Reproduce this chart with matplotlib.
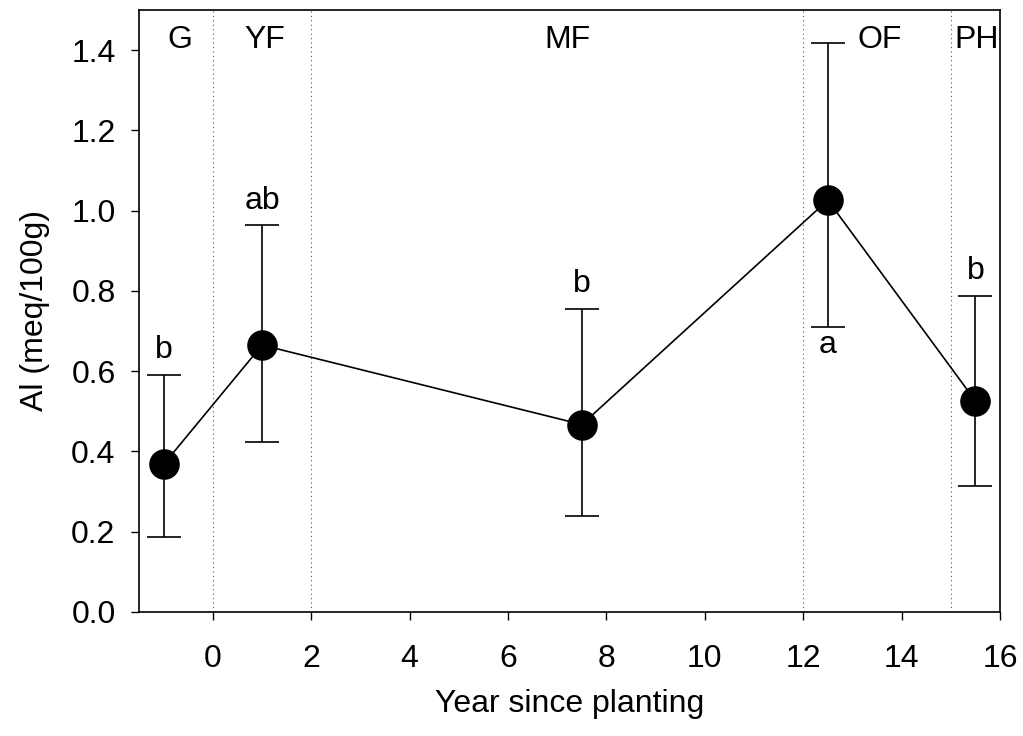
import matplotlib
matplotlib.use("Agg")
import matplotlib.pyplot as plt
import numpy as np

plt.rcParams['font.family'] = ['Liberation Sans', 'DejaVu Sans']

years = [-1, 1, 7.5, 12.5, 15.5]
al_mean = [0.368, 0.665, 0.467, 1.026, 0.526]
al_upper = [0.591, 0.963, 0.755, 1.418, 0.788]
al_lower = [0.188, 0.423, 0.238, 0.710, 0.313]
sig_letters = ['b', 'ab', 'b', 'a', 'b']
sig_above = [True, True, True, False, True]

stage_bounds = [0, 2, 12, 15]
stage_names = ['G', 'YF', 'MF', 'OF', 'PH']
stage_x = [-0.67, 1.06, 7.2, 13.56, 15.53]
stage_y = 1.425

xticks = [0, 2, 4, 6, 8, 10, 12, 14, 16]
yticks = [0.0, 0.2, 0.4, 0.6, 0.8, 1.0, 1.2, 1.4]

FS = 23

fig = plt.figure(figsize=(10.23, 7.36), dpi=100)
ax = fig.add_axes([0.136, 0.1685, 0.8415, 0.818])

for b in stage_bounds:
    ax.axvline(b, color='#555555', linestyle=(0, (1, 3)), linewidth=0.8, zorder=1)

mean = np.array(al_mean)
yerr = np.vstack([mean - np.array(al_lower), np.array(al_upper) - mean])
ax.errorbar(years, al_mean, yerr=yerr, fmt='-o', color='black', ecolor='black',
            elinewidth=1.2, capsize=12.5, capthick=1.2, linewidth=1.2,
            markersize=21, zorder=3)

for x, lo, hi, lab, above in zip(years, al_lower, al_upper, sig_letters, sig_above):
    if above:
        ax.text(x, hi + 0.062, lab, ha='center', va='center', fontsize=FS)
    else:
        ax.text(x, lo - 0.045, lab, ha='center', va='center', fontsize=FS)

for x, name in zip(stage_x, stage_names):
    ax.text(x, stage_y, name, ha='center', va='center', fontsize=FS)

ax.set_xlim(-1.5, 16)
ax.set_ylim(0, 1.5)
ax.set_xticks(xticks)
ax.set_xticklabels([str(t) for t in xticks])
ax.set_yticks(yticks)
ax.set_yticklabels([f"{t:.1f}" for t in yticks])
ax.tick_params(direction='out', length=6, width=1.0, labelsize=FS)
ax.tick_params(axis='x', pad=17)
ax.tick_params(axis='y', pad=11)
for s in ax.spines.values():
    s.set_linewidth(1.2)

ax.set_xlabel('Year since planting', fontsize=FS, labelpad=11)
ax.set_ylabel('Al (meq/100g)', fontsize=FS, labelpad=15)

fig.savefig('out.png', dpi=100)
